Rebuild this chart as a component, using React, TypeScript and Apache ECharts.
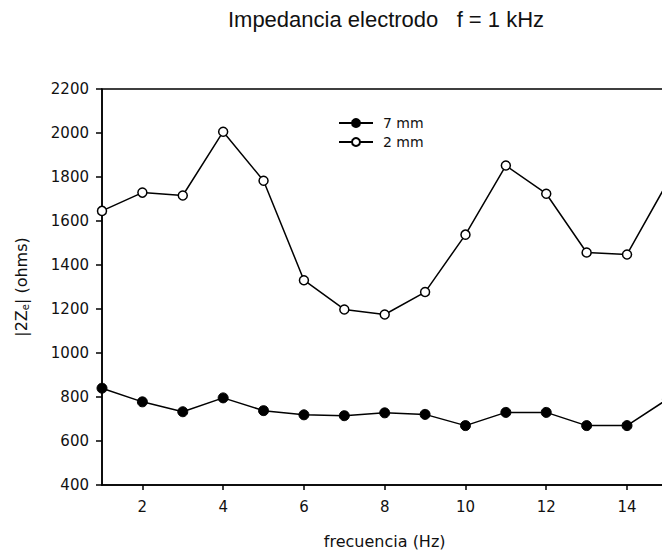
import React, { useEffect, useRef } from "react";
import * as echarts from "echarts";

const freq = [1, 2, 3, 4, 5, 6, 7, 8, 9, 10, 11, 12, 13, 14, 15];
const mm7 = [840, 778, 733, 796, 738, 719, 715, 728, 721, 670, 730, 730, 670, 670, 790];
const mm2 = [1646, 1729, 1716, 2006, 1783, 1331, 1198, 1175, 1277, 1538, 1852, 1724, 1457, 1448, 1775];
const xTicks = [2, 4, 6, 8, 10, 12, 14];
const titleText = "Impedancia electrodo   f = 1 kHz";

const TITLE_FONT = "'Liberation Sans', Arial, sans-serif";
const FONT = "'DejaVu Sans', 'Liberation Sans', sans-serif";
const CHART_W = 700;

export default function App() {
  const ref = useRef<HTMLDivElement>(null);
  useEffect(() => {
    if (!ref.current) return;
    const chart = echarts.init(ref.current, undefined, { renderer: "svg" });
    chart.setOption({
      animation: false,
      backgroundColor: "#fff",
      textStyle: { fontFamily: FONT },
      title: {
        text: titleText,
        left: 381,
        top: 3,
        textAlign: "center",
        textStyle: { fontFamily: TITLE_FONT, fontSize: 22, fontWeight: "normal", color: "#111" },
      },
      legend: {
        left: 333,
        top: 111,
        orient: "vertical",
        itemWidth: 34,
        itemHeight: 10,
        itemGap: 5,
        textStyle: { fontFamily: FONT, fontSize: 14, color: "#111", padding: [0, 0, 0, 5] },
        data: ["7 mm", "2 mm"],
      },
      grid: {
        left: 102,
        top: 89,
        bottom: 68,
        right: CHART_W - 667.4,
        show: true,
        borderColor: "#000",
        borderWidth: 1.5,
        backgroundColor: "transparent",
      },
      xAxis: {
        type: "value",
        min: 1,
        max: 15,
        name: "frecuencia (Hz)",
        nameLocation: "middle",
        nameGap: 48,
        nameTextStyle: { fontFamily: FONT, fontSize: 16, color: "#111" },
        axisLine: { show: true, lineStyle: { color: "#000", width: 1.5 } },
        axisTick: { show: true, customValues: xTicks, length: 5, lineStyle: { color: "#000", width: 1.5 } },
        axisLabel: { customValues: xTicks, fontFamily: FONT, fontSize: 15, color: "#111", margin: 14 },
        splitLine: { show: false },
      },
      yAxis: {
        type: "value",
        min: 400,
        max: 2200,
        interval: 200,
        name: "|2Z{sub|e}| (ohms)",
        nameLocation: "middle",
        nameGap: 72,
        nameTextStyle: {
          fontFamily: FONT,
          fontSize: 16,
          color: "#111",
          rich: {
            sub: { fontFamily: FONT, fontSize: 10, color: "#111", verticalAlign: "bottom", padding: [8, 0, 0, 0] },
          },
        },
        axisLine: { show: true, lineStyle: { color: "#000", width: 1.5 } },
        axisTick: { show: true, length: 6, lineStyle: { color: "#000", width: 1.5 } },
        axisLabel: { fontFamily: FONT, fontSize: 15, color: "#111", margin: 13, formatter: (v: number) => String(v) },
        splitLine: { show: false },
      },
      series: [
        {
          name: "7 mm",
          type: "line",
          data: freq.map((f, i) => [f, mm7[i]]),
          symbol: "circle",
          symbolSize: 10,
          itemStyle: { color: "#000", borderColor: "#000", borderWidth: 1 },
          lineStyle: { color: "#000", width: 1.5 },
          clip: false,
        },
        {
          name: "2 mm",
          type: "line",
          data: freq.map((f, i) => [f, mm2[i]]),
          symbol: "circle",
          symbolSize: 9,
          itemStyle: { color: "#fff", borderColor: "#000", borderWidth: 1.5 },
          lineStyle: { color: "#000", width: 1.5 },
          clip: false,
        },
      ],
    });
    return () => chart.dispose();
  }, []);
  return (
    <div style={{ position: "absolute", left: 0, top: 0, width: 662, height: 554, overflow: "hidden" }}>
      <div ref={ref} style={{ width: CHART_W, height: 554 }} />
    </div>
  );
}
